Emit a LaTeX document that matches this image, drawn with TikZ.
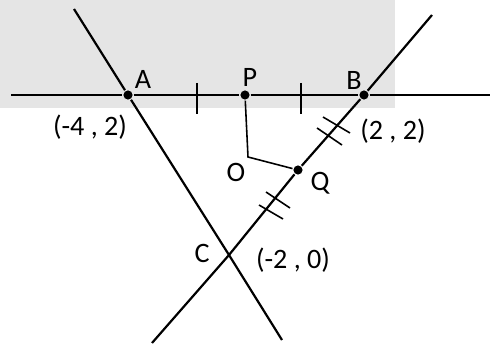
\documentclass[tikz,border=0pt]{standalone}
\usepackage{fontspec}
\setmainfont{Carlito}
\usetikzlibrary{calc}

\begin{document}
\begin{tikzpicture}[x=0.02cm,y=-0.02cm,line width=1.25pt,
    dot/.style={circle,fill,inner sep=0pt,minimum size=5.2pt},
    lbl/.style={inner sep=0pt,font=\fontsize{16}{18}\selectfont},
    tick/.style={line width=0.9pt}]
    \useasboundingbox (0,0) rectangle (490,344);
    % grey band
    \fill[black!10] (0,0) rectangle (395,108);
    % points
    \node[dot] (A) at (128,95) {};
    \node[dot] (P) at (245,95) {};
    \node[dot] (B) at (364,95) {};
    \node[dot] (Q) at (298,170) {};
    \coordinate (C) at (229,255);
    \coordinate (O) at (248,157);
    % line ends
    \coordinate (Lw) at (11,95);
    \coordinate (Le) at (490,95);
    \coordinate (At) at (74,9);
    \coordinate (Ab) at (282,340);
    \coordinate (Bt) at (432,15);
    \coordinate (Bb) at (152,343);
    % lines
    \draw (Lw) -- (A) -- (P) -- (B) -- (Le);
    \draw (At) -- (A) -- (C) -- (Ab);
    \draw (Bt) -- (B) -- (Q) -- (C) -- (Bb);
    \draw[line width=0.9pt] (P) -- (O) -- (Q);
    % equal marks
    \draw[tick] (197,83) -- (197,114);
    \draw[tick] (301,83) -- (301,114);
    \draw[tick] (323,117) -- (350,133);
    \draw[tick] (317,128) -- (342,145);
    \draw[tick] (266,192) -- (290,208);
    \draw[tick] (259,205) -- (283,219);
    % labels
    \node[lbl] (lA) at (143,79) {A};
    \node[lbl] (lP) at (250,77) {P};
    \node[lbl] (lB) at (354,80) {B};
    \node[lbl] (lO) at (236,172) {O};
    \node[lbl] (lQ) at (320,183) {Q};
    \node[lbl] (lC) at (202,253) {C};
    \node[lbl] (cA) at (90,127) {(-4 , 2)};
    \node[lbl] (cB) at (393,131) {(2 , 2)};
    \node[lbl] (cC) at (293,260) {(-2 , 0)};
\end{tikzpicture}
\end{document}
